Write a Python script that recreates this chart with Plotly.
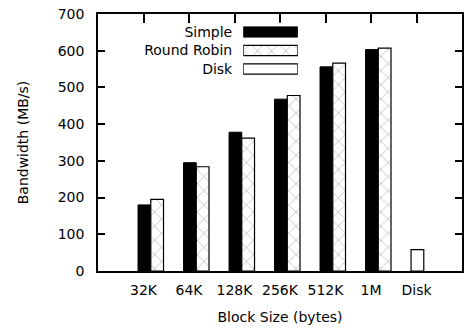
import plotly.graph_objects as go

# ---- data ----
categories = ["32K", "64K", "128K", "256K", "512K", "1M", "Disk"]
block_sizes = ["32K", "64K", "128K", "256K", "512K", "1M"]
simple_bw = [180, 295, 378, 468, 556, 603]
round_robin_bw = [195, 284, 362, 478, 566, 607]
disk_cat = ["Disk"]
disk_bw = [58]
legend_labels = ["Simple", "Round Robin", "Disk"]
y_ticks = [0, 100, 200, 300, 400, 500, 600, 700]

FONT = "DejaVu Sans"
BW = 0.28
RR_PATTERN = dict(shape="x", fgcolor="black", bgcolor="white", size=10, solidity=0.08)

fig = go.Figure()
fig.add_trace(go.Bar(x=block_sizes, y=simple_bw, name="Simple",
                     marker=dict(color="black", line=dict(color="black", width=1)),
                     width=BW, offset=-0.12, showlegend=False))
fig.add_trace(go.Bar(x=block_sizes, y=round_robin_bw, name="Round Robin",
                     marker=dict(color="white", line=dict(color="black", width=1.2),
                                 pattern=RR_PATTERN),
                     width=BW, offset=0.16, showlegend=False))
fig.add_trace(go.Bar(x=disk_cat, y=disk_bw, name="Disk",
                     marker=dict(color="white", line=dict(color="black", width=1.2)),
                     width=BW, offset=-0.12, showlegend=False))

# key drawn as small bars on an auxiliary axis pair (gnuplot-style: text left, sample right)
key_styles = [
    dict(color="black", line=dict(color="black", width=1)),
    dict(color="white", line=dict(color="black", width=1.2), pattern=RR_PATTERN),
    dict(color="white", line=dict(color="black", width=1.2)),
]
for lab, st in zip(legend_labels, key_styles):
    fig.add_trace(go.Bar(x=[1], y=[lab], orientation="h", marker=st, width=0.55,
                         xaxis="x2", yaxis="y2", showlegend=False, hoverinfo="skip"))

fig.update_layout(
    width=465, height=328,
    margin=dict(l=98, r=1, t=14, b=57),
    paper_bgcolor="white", plot_bgcolor="white",
    barmode="overlay",
    font=dict(family=FONT, size=14, color="black"),
    xaxis=dict(type="category", categoryorder="array", categoryarray=categories,
               range=[-1, len(categories)], showline=True, mirror=True,
               linecolor="black", linewidth=1.5, ticks="", showgrid=False,
               ticklabelstandoff=5,
               tickfont=dict(family=FONT, size=14),
               title=dict(text="Block Size (bytes)", font=dict(family=FONT, size=14), standoff=16)),
    xaxis3=dict(overlaying="x", side="top", type="linear",
                range=[-1, len(categories)],
                tickmode="array", tickvals=list(range(len(categories))),
                ticks="inside", ticklen=9, tickwidth=1.5, tickcolor="black",
                showticklabels=False, showgrid=False, showline=False, zeroline=False),
    yaxis=dict(range=[0, 700], tickmode="array", tickvals=y_ticks,
               showline=True, mirror="ticks", linecolor="black", linewidth=1.5,
               ticks="inside", ticklen=7, tickwidth=1.5, tickcolor="black",
               showgrid=False, zeroline=False, ticklabelstandoff=9,
               tickfont=dict(family=FONT, size=14),
               title=dict(text="Bandwidth (MB/s)", font=dict(family=FONT, size=14), standoff=26)),
    xaxis2=dict(domain=[0.399, 0.549], range=[0, 1], visible=False, anchor="y2"),
    yaxis2=dict(domain=[0.75, 0.966], anchor="x2", autorange="reversed",
                type="category", showline=False, showgrid=False, zeroline=False,
                ticks="", ticklabelstandoff=10,
                tickfont=dict(family=FONT, size=14)),
)
# empty helper trace so the top tick axis is rendered
fig.add_trace(go.Scatter(x=[], y=[], xaxis="x3", yaxis="y", showlegend=False))

fig.write_html("out.html")
